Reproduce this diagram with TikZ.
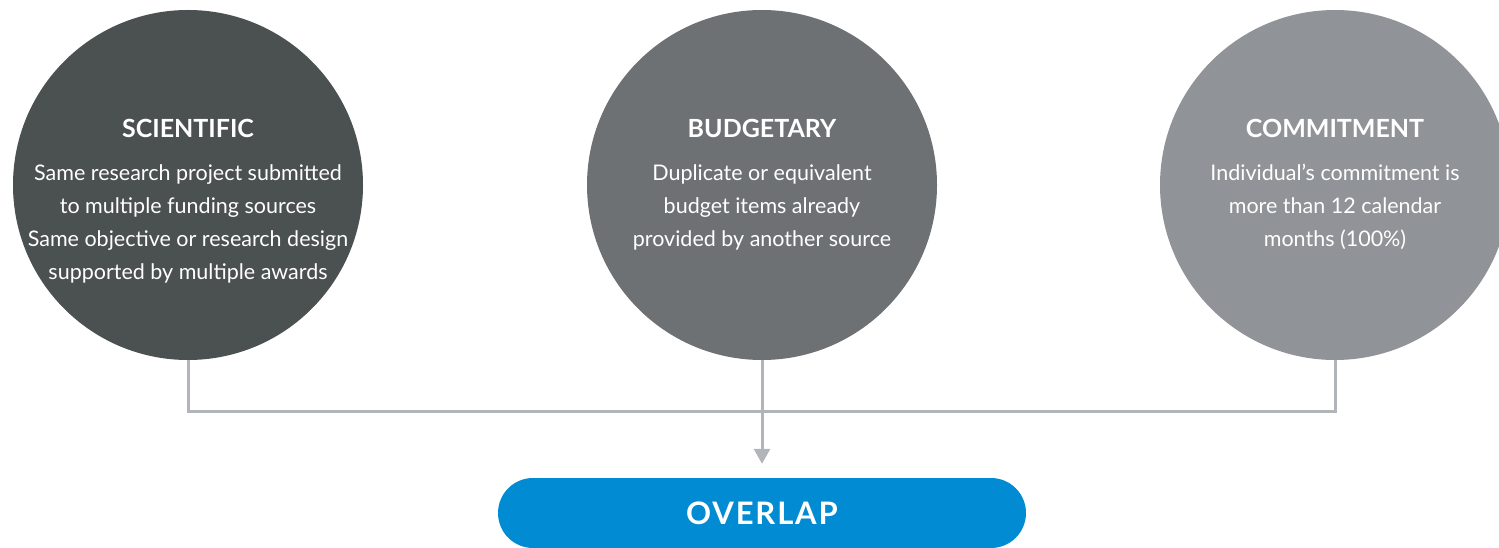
\documentclass[tikz,border=0pt]{standalone}
\usepackage{fontspec}
\setmainfont{Lato}
\usetikzlibrary{arrows.meta}
\definecolor{cdark}{HTML}{4B5050}
\definecolor{cmid}{HTML}{6D7174}
\definecolor{clight}{HTML}{909498}
\definecolor{cline}{HTML}{B1B4B8}
\definecolor{cblue}{HTML}{008BD2}
\tikzset{
  bubble/.style={circle, minimum size=350pt, inner sep=0pt, draw=none},
  titletext/.style={anchor=base, text=white, font=\fontsize{25}{30}\selectfont\bfseries, inner sep=0pt},
  bodytext/.style={anchor=north, text=white, align=center, font=\fontsize{21.5}{33}\selectfont, inner sep=0pt},
  conn/.style={draw=cline, line width=3pt},
  pill/.style={fill=cblue, rounded corners=35pt, minimum width=528pt, minimum height=70pt, inner sep=0pt, text=white,
    font=\fontsize{31}{36}\selectfont\bfseries\addfontfeatures{LetterSpace=6}}
}
\begin{document}
\begin{tikzpicture}[x=1pt,y=1pt]
\useasboundingbox (0,0) rectangle (1499,547);
\node[bubble, fill=cdark] (c1) at (188,362) {};
\node[bubble, fill=cmid] (c2) at (762,362) {};
\node[bubble, fill=clight] (c3) at (1335,362) {};
\node[titletext] (t1) at (188,409) {SCIENTIFIC};
\node[titletext] (t2) at (762,409) {BUDGETARY};
\node[titletext] (t3) at (1335,409) {COMMITMENT};
\node[bodytext] (b1) at (188,383) {Same research project submitted\\to multiple funding sources\\Same objective or research design\\supported by multiple awards};
\node[bodytext] (b2) at (762,383) {Duplicate or equivalent\\budget items already\\provided by another source};
\node[bodytext] (b3) at (1335,383) {Individual’s commitment is\\more than 12 calendar\\months (100\%)};
\node[pill] (ov) at (762,34) {OVERLAP};
\draw[conn] (c1.south) -- ++(0,-51) -| (c3.south);
\draw[conn, -{Triangle[width=16pt,length=15pt]}, shorten >=14pt] (c2.south) -- (ov.north);
\end{tikzpicture}
\end{document}
